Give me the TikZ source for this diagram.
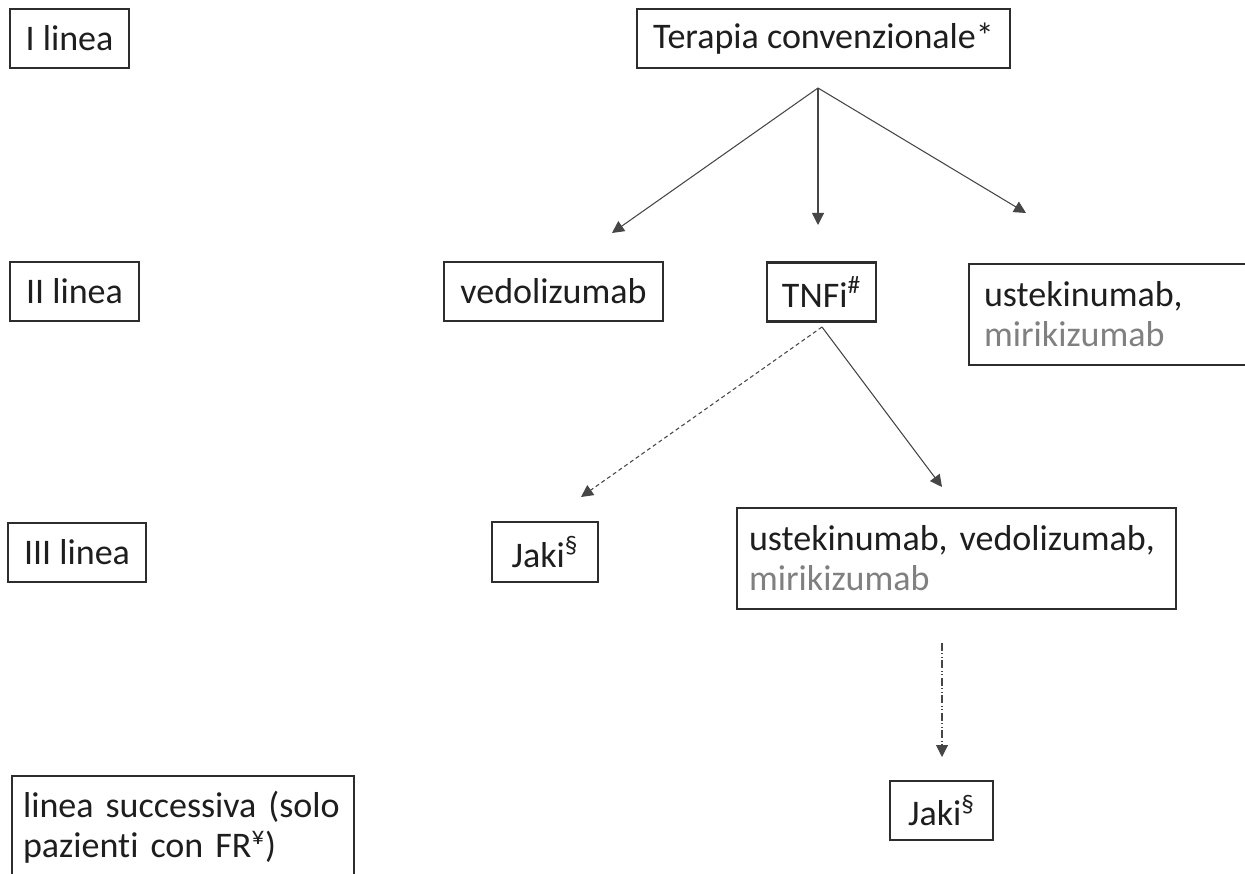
\documentclass[tikz,border=0pt]{standalone}
\usepackage{fontspec}
\setmainfont{Carlito}[Ligatures=NoCommon]
\usetikzlibrary{arrows.meta}
\definecolor{mirigray}{RGB}{128,128,128}
\definecolor{boxline}{RGB}{45,45,45}
\definecolor{arrowline}{RGB}{70,70,70}
\definecolor{textblack}{RGB}{30,30,30}

\begin{document}
\begin{tikzpicture}[x=0.02cm,y=-0.02cm,
    box/.style={draw=boxline, line width=1.2pt, minimum height=1.18cm, inner sep=0pt,
      text=textblack, font=\fontsize{20.5}{22.8}\selectfont},
    link/.style={draw=arrowline, line width=0.6pt, -{Triangle[length=0.24cm,width=0.24cm]}},
    maybe/.style={link, dash pattern=on 0.08cm off 0.06cm},
    later/.style={link, dash pattern=on 0.16cm off 0.05cm on 0.02cm off 0.05cm on 0.02cm off 0.05cm}]
      \useasboundingbox[fill=white] (0,0) rectangle (1245,874);
      \node[box, minimum width=2.38cm] (linea1) at (69.5,38.5) {I linea};
      \node[box, minimum width=2.58cm] (linea2) at (74.5,291.5) {II linea};
      \node[box, minimum width=2.76cm] (linea3) at (77,552.5) {III linea};
      \node[box, anchor=north west, align=left, text width=6.4cm, inner xsep=0.22cm, inner ysep=0.3cm]
        (linea4) at (11,775) {linea successiva (solo\\pazienti con FR\textsuperscript{¥})};
      \node[box, minimum width=7.46cm] (conv) at (823.5,38.5) {Terapia convenzionale*};
      \node[box, minimum width=4.38cm] (vedo) at (553.5,291.5) {vedolizumab};
      \node[box, minimum width=2.18cm] (tnfi) at (821.5,292) {TNFi\textsuperscript{\#}};
      \node[box, anchor=north west, align=left, text width=5.8cm, inner xsep=0.3cm, minimum height=2.02cm]
        (uste2) at (968,263) {ustekinumab,\\\textcolor{mirigray}{mirikizumab}};
      \node[box, minimum width=2.12cm, minimum height=1.2cm] (jaki3) at (545,552) {Jaki\textsuperscript{§}};
      \node[box, anchor=north west, align=left, text width=8.3cm, inner xsep=0.24cm, minimum height=2.02cm]
        (uste3) at (736,507) {ustekinumab, vedolizumab,\\\textcolor{mirigray}{mirikizumab}};
      \node[box, minimum width=2.06cm] (jaki4) at (941.5,810.5) {Jaki\textsuperscript{§}};
      \coordinate (split) at (818,88);
      \coordinate (tovedo) at (612,233);
      \coordinate (totnfi) at (818,225);
      \coordinate (touste) at (1026,213);
      \coordinate (fork) at (822,327);
      \coordinate (tojaki) at (581,497);
      \coordinate (touste3) at (942,487);
      \coordinate (fromuste3) at (942,643);
      \coordinate (tojaki4) at (942,757);
      \draw[link] (split) -- (tovedo);
      \draw[link] (split) -- (totnfi);
      \draw[link] (split) -- (touste);
      \draw[maybe] (fork) -- (tojaki);
      \draw[link] (fork) -- (touste3);
      \draw[later] (fromuste3) -- (tojaki4);
    \end{tikzpicture}
\end{document}
